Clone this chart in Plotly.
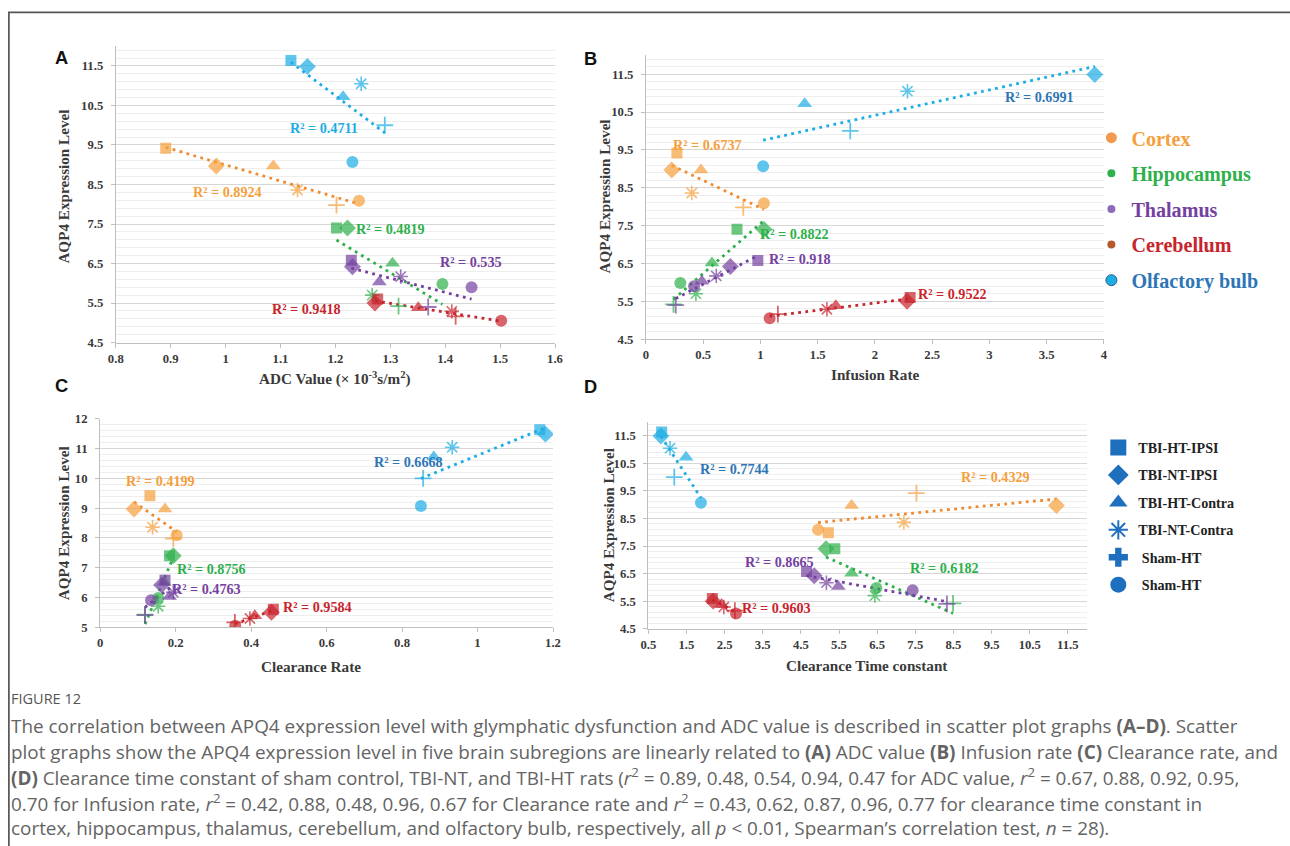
import numpy as np
import plotly.graph_objects as go

# Figure size; the page adds an 8px body margin and the photo is rescaled to 1290x846,
# so reference pixel positions are converted with KX/KY below.
W, H = 1290, 846
BODY = 8
KX = (W + 2 * BODY) / W
KY = (H + 2 * BODY) / H

# ---------------- data ----------------
regions = ["Cortex", "Hippocampus", "Thalamus", "Cerebellum", "Olfactory bulb"]
groups = ["TBI-HT-IPSI", "TBI-NT-IPSI", "TBI-HT-Contra", "TBI-NT-Contra", "Sham-HT", "Sham-HT"]

# AQP4 expression level per region, in group order
aqp4_cortex = [9.42, 8.97, 8.97, 8.36, 7.98, 8.09]
aqp4_hippocampus = [7.40, 7.40, 6.51, 5.70, 5.42, 5.98]
aqp4_thalamus = [6.58, 6.42, 6.03, 6.17, 5.40, 5.90]
aqp4_cerebellum = [5.60, 5.50, 5.38, 5.29, 5.16, 5.05]
aqp4_olfactory = [11.64, 11.49, 10.72, 11.05, 10.00, 9.07]
aqp4_cortex_D = [7.98, 8.97, 8.97, 8.36, 9.42, 8.09]

# Panel A: ADC value
adc_cortex = [0.891, 0.983, 1.087, 1.131, 1.202, 1.243]
adc_hippocampus = [1.202, 1.222, 1.304, 1.267, 1.315, 1.395]
adc_thalamus = [1.229, 1.231, 1.280, 1.319, 1.369, 1.448]
adc_cerebellum = [1.277, 1.272, 1.351, 1.412, 1.419, 1.502]
adc_olfactory = [1.119, 1.149, 1.214, 1.247, 1.290, 1.231]

# Panel B: infusion rate
inf_cortex = [0.27, 0.225, 0.48, 0.40, 0.85, 1.03]
inf_hippocampus = [0.795, 1.03, 0.576, 0.436, 0.24, 0.30]
inf_thalamus = [0.977, 0.737, 0.488, 0.614, 0.26, 0.42]
inf_cerebellum = [2.307, 2.28, 1.658, 1.58, 1.152, 1.08]
inf_olfactory = [None, 3.92, 1.386, 2.284, 1.784, 1.023]

# Panel C: clearance rate
clr_cortex = [0.132, 0.090, 0.172, 0.139, 0.194, 0.203]
clr_hippocampus = [0.184, 0.194, 0.170, 0.154, 0.119, 0.154]
clr_thalamus = [0.172, 0.163, 0.184, 0.194, 0.119, 0.135]
clr_cerebellum = [0.459, 0.454, 0.410, 0.397, 0.357, 0.358]
clr_olfactory = [1.165, 1.180, 0.884, 0.933, 0.856, 0.850]

# Panel D: clearance time constant
tau_cortex = [5.22, 11.20, 5.83, 7.20, 7.53, 4.95]
tau_hippocampus = [5.39, 5.16, 5.83, 6.44, 8.49, 6.48]
tau_thalamus = [4.65, 4.85, 5.48, 5.17, 8.33, 7.43]
tau_cerebellum = [2.18, 2.20, 2.42, 2.48, 2.77, 2.80]
tau_olfactory = [0.85, 0.83, 1.49, 1.07, 1.18, 1.88]

# R² labels shown on the chart
r2_A = ["R² = 0.8924", "R² = 0.4819", "R² = 0.535", "R² = 0.9418", "R² = 0.4711"]
r2_B = ["R² = 0.6737", "R² = 0.8822", "R² = 0.918", "R² = 0.9522", "R² = 0.6991"]
r2_C = ["R² = 0.4199", "R² = 0.8756", "R² = 0.4763", "R² = 0.9584", "R² = 0.6668"]
r2_D = ["R² = 0.4329", "R² = 0.6182", "R² = 0.8665", "R² = 0.9603", "R² = 0.7744"]

# tick labels
xticks_A = ["0.8", "0.9", "1", "1.1", "1.2", "1.3", "1.4", "1.5", "1.6"]
xticks_B = ["0", "0.5", "1", "1.5", "2", "2.5", "3", "3.5", "4"]
xticks_C = ["0", "0.2", "0.4", "0.6", "0.8", "1", "1.2"]
xticks_D = ["0.5", "1.5", "2.5", "3.5", "4.5", "5.5", "6.5", "7.5", "8.5", "9.5", "10.5", "11.5"]
yticks_ABD = ["4.5", "5.5", "6.5", "7.5", "8.5", "9.5", "10.5", "11.5"]
yticks_C = ["5", "6", "7", "8", "9", "10", "11", "12"]

# ---------------- style ----------------
COL = {"Cortex": "#F5A03C", "Hippocampus": "#2EB04C", "Thalamus": "#7541A1",
       "Cerebellum": "#C8242C", "Olfactory bulb": "#1CADE4"}
TREND = {"Cortex": "#F08A30", "Hippocampus": "#2EB04C", "Thalamus": "#7541A1",
         "Cerebellum": "#C8242C", "Olfactory bulb": "#1CADE4"}
SYMBOLS = ["square", "diamond", "triangle-up", "asterisk-open", "cross-thin-open", "circle"]
SIZES = [11, 13, 13, 12, 12, 12]
LINEW = [0, 0, 0, 1.6, 1.8, 0]
SERIF = "Liberation Serif"
TICKFONT = dict(family=SERIF, size=12.7, color="#3A3A3A", weight="bold")


def fx(t):
    """reference pixel x -> figure pixel x"""
    return t * KX - BODY


def fy(t):
    """reference pixel y -> figure pixel y"""
    return t * KY - BODY


def px(t):
    return fx(t) / W


def py(t):
    return 1 - fy(t) / H


fig = go.Figure()

panels = [
    ("x", "y", [adc_cortex, adc_hippocampus, adc_thalamus, adc_cerebellum, adc_olfactory],
     [aqp4_cortex, aqp4_hippocampus, aqp4_thalamus, aqp4_cerebellum, aqp4_olfactory]),
    ("x2", "y2", [inf_cortex, inf_hippocampus, inf_thalamus, inf_cerebellum, inf_olfactory],
     [aqp4_cortex, aqp4_hippocampus, aqp4_thalamus, aqp4_cerebellum, aqp4_olfactory]),
    ("x3", "y3", [clr_cortex, clr_hippocampus, clr_thalamus, clr_cerebellum, clr_olfactory],
     [aqp4_cortex, aqp4_hippocampus, aqp4_thalamus, aqp4_cerebellum, aqp4_olfactory]),
    ("x4", "y4", [tau_cortex, tau_hippocampus, tau_thalamus, tau_cerebellum, tau_olfactory],
     [aqp4_cortex_D, aqp4_hippocampus, aqp4_thalamus, aqp4_cerebellum, aqp4_olfactory]),
]

for xa, ya, xs, ys in panels:
    # linear trendlines first (beneath markers)
    for reg, xv, yv in zip(regions, xs, ys):
        pts = [(a, b) for a, b in zip(xv, yv) if a is not None]
        xx = np.array([p[0] for p in pts])
        yy = np.array([p[1] for p in pts])
        k, c = np.polyfit(xx, yy, 1)
        xl = np.array([xx.min(), xx.max()])
        fig.add_trace(go.Scatter(
            x=xl, y=k * xl + c, mode="lines", xaxis=xa, yaxis=ya, showlegend=False,
            hoverinfo="skip",
            line=dict(color=TREND[reg], width=2.8, dash="2.8px,4.4px")))
    for reg, xv, yv in zip(regions, xs, ys):
        fig.add_trace(go.Scatter(
            x=xv, y=yv, mode="markers", xaxis=xa, yaxis=ya, showlegend=False,
            name=reg, text=groups,
            marker=dict(symbol=SYMBOLS, size=SIZES, color=COL[reg],
                        line=dict(color=COL[reg], width=LINEW))))

# legend 1: regions
LEG_TXT = {"Cortex": "#F5A03C", "Hippocampus": "#2EB04C", "Thalamus": "#7541A1",
           "Cerebellum": "#C8242C", "Olfactory bulb": "#2E75B6"}
LEG_MK = {"Cortex": ("#F29A52", 11), "Hippocampus": ("#2EB04C", 8), "Thalamus": ("#8E6BB8", 8),
          "Cerebellum": ("#B65A2C", 8), "Olfactory bulb": ("#1CADE4", 11)}
for i, reg in enumerate(regions):
    c, s = LEG_MK[reg]
    fig.add_trace(go.Scatter(
        x=[None], y=[None], mode="markers", xaxis="x", yaxis="y",
        name=f"<span style='color:{LEG_TXT[reg]}'>{reg}</span>",
        legend="legend", legendgroup=f"r{i}",
        marker=dict(symbol="circle", size=s, color=c,
                    line=dict(color="#2E5C8A" if reg == "Olfactory bulb" else c,
                              width=1 if reg == "Olfactory bulb" else 0))))

# legend 2: group shapes
LEG2_SYM = ["square", "diamond", "triangle-up", "asterisk-open", "cross", "circle"]
LEG2_NAMES = ["TBI-HT-IPSI", "TBI-NT-IPSI", "TBI-HT-Contra", "TBI-NT-Contra", " Sham-HT", " Sham-HT"]
for i, (sym, nm) in enumerate(zip(LEG2_SYM, LEG2_NAMES)):
    fig.add_trace(go.Scatter(
        x=[None], y=[None], mode="markers", xaxis="x", yaxis="y",
        name=nm, legend="legend2", legendgroup=f"g{i}",
        marker=dict(symbol=sym, size=16, color="#1F6FBF",
                    line=dict(color="#1F6FBF", width=2 if "open" in sym else 0))))


def xaxis(domain, rng, vals, texts, anchor):
    return dict(domain=[px(domain[0]), px(domain[1])], range=rng, anchor=anchor,
                tickmode="array", tickvals=vals, ticktext=texts,
                showline=True, linecolor="#BFBFBF", linewidth=1,
                ticks="outside", ticklen=4, tickcolor="#BFBFBF",
                showgrid=False, zeroline=False, tickfont=TICKFONT)


def yaxis(domain, rng, vals, texts, anchor, minor0):
    return dict(domain=[py(domain[1]), py(domain[0])], range=rng, anchor=anchor,
                tickmode="array", tickvals=vals, ticktext=texts,
                showline=True, linecolor="#BFBFBF", linewidth=1,
                ticks="outside", ticklen=4, tickcolor="#BFBFBF", ticklabelstandoff=5,
                showgrid=True, gridcolor="#D6D6D6", gridwidth=1, zeroline=False,
                minor=dict(tickmode="array",
                           tickvals=list(np.round(np.arange(minor0, 12.001, 0.2), 2)),
                           showgrid=True, gridcolor="#EEEEEE", gridwidth=1, ticks=""),
                tickfont=TICKFONT)


yv_abd = [float(t) for t in yticks_ABD]
yv_c = [float(t) for t in yticks_C]

fig.update_layout(
    xaxis=xaxis((115.7, 555), [0.8, 1.6], [float(t) for t in xticks_A], xticks_A, "y"),
    yaxis=yaxis((47, 342.7), [4.5, 12], yv_abd, yticks_ABD, "x", 4.5),
    xaxis2=xaxis((646, 1104), [0, 4], [float(t) for t in xticks_B], xticks_B, "y2"),
    yaxis2=yaxis((56, 339.3), [4.5, 12], yv_abd, yticks_ABD, "x2", 4.5),
    xaxis3=xaxis((100, 553), [0, 1.2], [float(t) for t in xticks_C], xticks_C, "y3"),
    yaxis3=yaxis((419, 626.7), [5, 12], yv_c, yticks_C, "x3", 5.0),
    xaxis4=xaxis((648.3, 1087), [0.5, 12], [float(t) for t in xticks_D], xticks_D, "y4"),
    yaxis4=yaxis((422, 628.3), [4.5, 12], yv_abd, yticks_ABD, "x4", 4.5),
)

annotations = []

# R² labels (data coordinates)
R2_OLF_DARK = "#2E75B6"
r2_pos = {
    ("x", "y"): [(1.003, 8.30), (1.300, 7.38), (1.447, 6.55), (1.147, 5.35), (1.179, 9.92)],
    ("x2", "y2"): [(0.54, 9.62), (1.30, 7.29), (1.345, 6.63), (2.68, 5.70), (3.44, 10.89)],
    ("x3", "y3"): [(0.159, 9.91), (0.294, 6.94), (0.283, 6.27), (0.575, 5.66), (0.816, 10.55)],
    ("x4", "y4"): [(9.61, 10.0), (8.27, 6.69), (3.95, 6.91), (3.87, 5.24), (2.77, 10.29)],
}
for (xa, ya), labels in zip(r2_pos.keys(), [r2_A, r2_B, r2_C, r2_D]):
    for reg, lab, (ax_, ay_) in zip(regions, labels, r2_pos[(xa, ya)]):
        col = COL[reg]
        if reg == "Olfactory bulb" and xa != "x":
            col = R2_OLF_DARK
        annotations.append(dict(x=ax_, y=ay_, xref=xa, yref=ya, text=lab, showarrow=False,
                                font=dict(family=SERIF, size=14.2, color=col, weight="bold"),
                                xanchor="center", yanchor="middle"))

# panel letters
for lab, x, y in [("A", 61, 58), ("B", 590, 59), ("C", 61, 386), ("D", 590, 387)]:
    annotations.append(dict(x=px(x), y=py(y), xref="paper", yref="paper", text=lab,
                            showarrow=False, xanchor="center", yanchor="middle",
                            font=dict(family="Liberation Sans", size=18.3, color="#111111",
                                      weight="bold")))

TITLEFONT = dict(family=SERIF, size=15.2, color="#3A3A3A", weight="bold")
for txt, x, y in [("ADC Value (× 10<sup>-3</sup>s/m<sup>2</sup>)", 335, 379),
                  ("Infusion Rate", 875, 375), ("Clearance Rate", 311, 666),
                  ("Clearance Time constant", 867, 665)]:
    annotations.append(dict(x=px(x), y=py(y), xref="paper", yref="paper", text=txt,
                            showarrow=False, xanchor="center", yanchor="middle", font=TITLEFONT))
for x, y in [(63, 187), (605, 197), (63, 523), (608, 525)]:
    annotations.append(dict(x=px(x), y=py(y), xref="paper", yref="paper",
                            text="AQP4 Expression Level", textangle=-90,
                            showarrow=False, xanchor="center", yanchor="middle", font=TITLEFONT))

# caption
CAPFONT = dict(family="Open Sans", size=18.9, color="#646464")
annotations.append(dict(x=px(8.6), y=py(698), xref="paper", yref="paper", text="FIGURE 12",
                        showarrow=False, xanchor="left", yanchor="middle",
                        font=dict(family="Open Sans", size=14.5, color="#555555")))
caption_lines = [
    "The correlation between APQ4 expression level with glymphatic dysfunction and ADC value is described in scatter plot graphs <b>(A–D)</b>. Scatter",
    "plot graphs show the APQ4 expression level in five brain subregions are linearly related to <b>(A)</b> ADC value <b>(B)</b> Infusion rate <b>(C)</b> Clearance rate, and",
    "<b>(D)</b> Clearance time constant of sham control, TBI-NT, and TBI-HT rats (<i>r</i><sup>2</sup> = 0.89, 0.48, 0.54, 0.94, 0.47 for ADC value, <i>r</i><sup>2</sup> = 0.67, 0.88, 0.92, 0.95,",
    "0.70 for Infusion rate, <i>r</i><sup>2</sup> = 0.42, 0.88, 0.48, 0.96, 0.67 for Clearance rate and <i>r</i><sup>2</sup> = 0.43, 0.62, 0.87, 0.96, 0.77 for clearance time constant in",
    "cortex, hippocampus, thalamus, cerebellum, and olfactory bulb, respectively, all <i>p</i> &lt; 0.01, Spearman’s correlation test, <i>n</i> = 28).",
]
for line, y in zip(caption_lines, [725, 751, 776, 802, 827]):
    annotations.append(dict(x=px(8.6), y=py(y), xref="paper", yref="paper", text=line,
                            showarrow=False, xanchor="left", yanchor="middle", font=CAPFONT))

fig.update_layout(
    width=W, height=H, margin=dict(l=0, r=0, t=0, b=0),
    paper_bgcolor="white", plot_bgcolor="white",
    annotations=annotations,
    shapes=[dict(type="rect", xref="paper", yref="paper", x0=0.9 / W, x1=1.05,
                 y0=-0.05, y1=py(13.2), line=dict(color="#555555", width=1.7))],
    legend=dict(x=1097 / W, y=1 - 113 / H,
                xanchor="left", yanchor="top",
                font=dict(family=SERIF, size=20.1, weight="bold"),
                bgcolor="rgba(0,0,0,0)", tracegroupgap=6.5, itemwidth=30,
                traceorder="grouped"),
    legend2=dict(x=1104 / W, y=1 - 432 / H, xanchor="left", yanchor="top",
                 font=dict(family=SERIF, size=14.1, color="#222222", weight="bold"),
                 bgcolor="rgba(0,0,0,0)", tracegroupgap=6.1, itemwidth=30,
                 traceorder="grouped"),
    hovermode=False,
)

fig.write_html("out.html")
